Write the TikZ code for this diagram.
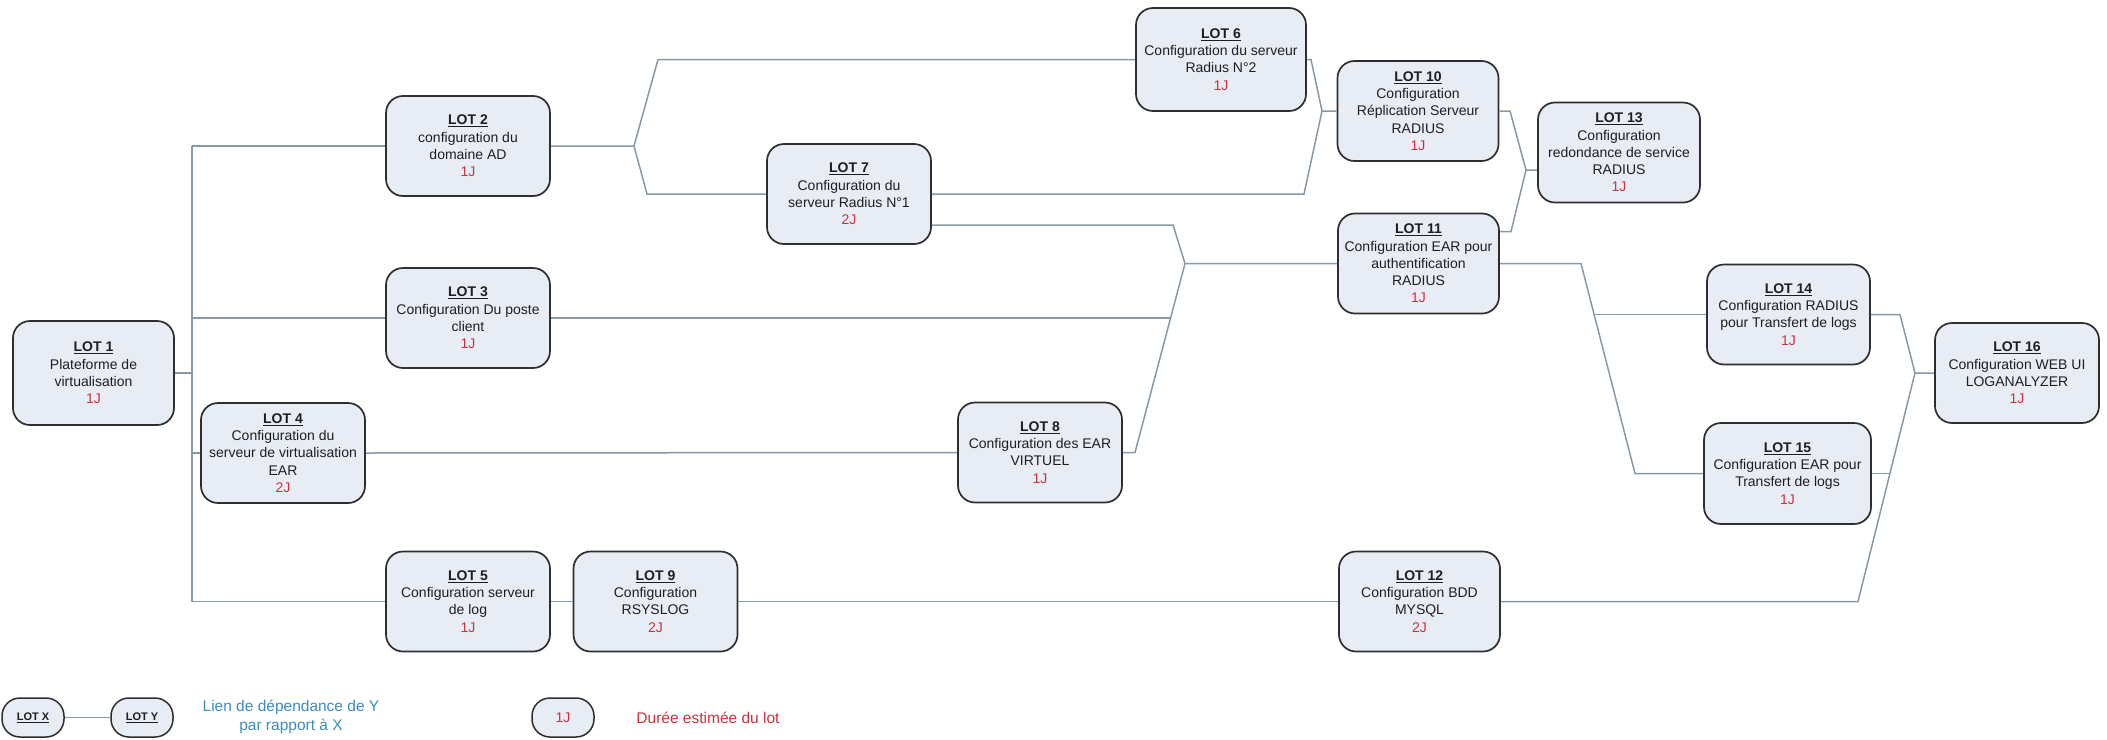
\documentclass[tikz,border=0pt]{standalone}
\usepackage{fontspec}
\setmainfont{Liberation Sans}
\usetikzlibrary{calc}

\definecolor{lotfill}{HTML}{E8EDF5}
\definecolor{lotdraw}{HTML}{2E2E2E}
\definecolor{linkcol}{HTML}{8798A6}
\definecolor{durcol}{HTML}{D0303C}
\definecolor{legblue}{HTML}{3A8CC0}
\definecolor{bodytext}{HTML}{1E1E1E}

\tikzset{
  lot/.style={draw=lotdraw, line width=1.7pt, fill=lotfill, rounded corners=17pt,
    minimum width=164pt, minimum height=100pt, inner sep=2pt, align=center,
    text=bodytext, font=\fontsize{14}{17.3}\selectfont},
  legbox/.style={draw=lotdraw, line width=1.5pt, fill=lotfill, rounded corners=18pt,
    minimum width=62pt, minimum height=39pt, inner sep=1pt, align=center,
    text=bodytext},
  link/.style={draw=linkcol, line width=1.5pt},
  legtext/.style={align=center, font=\fontsize{15.5}{18.5}\selectfont},
}

% box contents: title, description lines, estimated duration
\newcommand{\lotbox}[3]{\underline{\textbf{LOT #1}}\\#2\\\textcolor{durcol}{#3}}

\begin{document}
\begin{tikzpicture}[x=1pt,y=-1pt]
\useasboundingbox (0,0) rectangle (2107,739);

% work packages
\node[lot, minimum width=161pt, minimum height=104pt] (n1) at (93.5,373) {\lotbox{1}{Plateforme de\\virtualisation}{1J}};
\node[lot] (n2) at (468,146) {\lotbox{2}{configuration du\\domaine AD}{1J}};
\node[lot] (n3) at (468,318) {\lotbox{3}{Configuration Du poste\\client}{1J}};
\node[lot] (n4) at (283,453) {\lotbox{4}{Configuration du\\serveur de virtualisation\\EAR}{2J}};
\node[lot] (n5) at (468,601.5) {\lotbox{5}{Configuration serveur\\de log}{1J}};
\node[lot, minimum width=170pt, minimum height=103pt] (n6) at (1221,59.5) {\lotbox{6}{Configuration du serveur\\Radius N°2}{1J}};
\node[lot] (n7) at (849,194) {\lotbox{7}{Configuration du\\serveur Radius N°1}{2J}};
\node[lot] (n8) at (1040,452.5) {\lotbox{8}{Configuration des EAR\\VIRTUEL}{1J}};
\node[lot] (n9) at (655.5,601.5) {\lotbox{9}{Configuration\\RSYSLOG}{2J}};
\node[lot, minimum width=161pt] (n10) at (1418,111) {\lotbox{10}{Configuration\\Réplication Serveur\\RADIUS}{1J}};
\node[lot, minimum width=161pt] (n11) at (1418.5,263.5) {\lotbox{11}{Configuration EAR pour\\authentification\\RADIUS}{1J}};
\node[lot, minimum width=161pt] (n12) at (1419.5,601.5) {\lotbox{12}{Configuration BDD\\MYSQL}{2J}};
\node[lot, minimum width=162pt] (n13) at (1619,152.5) {\lotbox{13}{Configuration\\redondance de service\\RADIUS}{1J}};
\node[lot, minimum width=163pt] (n14) at (1788.5,314.5) {\lotbox{14}{Configuration RADIUS\\pour Transfert de logs}{1J}};
\node[lot, minimum width=167pt, minimum height=101pt] (n15) at (1787.5,473.5) {\lotbox{15}{Configuration EAR pour\\Transfert de logs}{1J}};
\node[lot] (n16) at (2017,373) {\lotbox{16}{Configuration WEB UI\\LOGANALYZER}{1J}};

% trunk leaving LOT 1
\coordinate (tr) at (192,0);
\draw[link] (n1.east) -- (tr |- n1.east);
\draw[link] (tr |- n2.west) -- (tr |- n5.west);
\draw[link] (tr |- n2.west) -- (n2.west);
\draw[link] (tr |- n3.west) -- (n3.west);
\draw[link] (tr |- n4.west) -- (n4.west);
\draw[link] (tr |- n5.west) -- (n5.west);

% LOT 2 towards LOT 6 and LOT 7
\coordinate (f2) at (634,146);
\coordinate (f2a) at (658,59.5);
\coordinate (f2b) at (647,194);
\draw[link] (n2.east) -- (f2) -- (f2a) -- (n6.west);
\draw[link] (f2) -- (f2b) -- (n7.west);

% LOT 6 and LOT 7 towards LOT 10
\coordinate (m10) at (1322,111);
\coordinate (a6) at (1311,59.5);
\coordinate (a7) at (1304,194);
\draw[link] (n6.east) -- (a6) -- (m10) -- (n10.west);
\draw[link] (n7.east) -- (a7) -- (m10);

% LOT 7, LOT 3 and LOT 8 towards LOT 11
\coordinate (m11) at (1185,263.5);
\coordinate (a7b) at (1173,225);
\coordinate (a8) at (1135,452.5);
\coordinate (j3) at (1170.6,318);
\draw[link] ([yshift=-31pt]n7.east) -- (a7b) -- (m11) -- (n11.west);
\draw[link] (n8.east) -- (a8) -- (m11);
\draw[link] (n3.east) -- (j3);

% straight links
\draw[link] (n4.east) -- (n8.west);
\draw[link] (n5.east) -- (n9.west);
\draw[link] (n9.east) -- (n12.west);

% LOT 10 and LOT 11 towards LOT 13
\coordinate (m13) at (1526,170);
\coordinate (a10) at (1510,111);
\coordinate (a11) at (1511,231.5);
\draw[link] (n10.east) -- (a10) -- (m13) -- (m13 -| n13.west);
\draw[link] ([yshift=32pt]n11.east) -- (a11) -- (m13);

% LOT 11 towards LOT 14 and LOT 15
\coordinate (a11b) at (1581,263.5);
\coordinate (a15) at (1635,473.5);
\coordinate (j14) at (1594.1,314.5);
\draw[link] (n11.east) -- (a11b) -- (a15) -- (n15.west);
\draw[link] (j14) -- (n14.west);

% LOT 14, LOT 15 and LOT 12 towards LOT 16
\coordinate (m16) at (1915,373);
\coordinate (a14) at (1900,314.5);
\coordinate (a12) at (1858,601.5);
\coordinate (j15) at (1889.9,473.5);
\draw[link] (n14.east) -- (a14) -- (m16) -- (n16.west);
\draw[link] (n12.east) -- (a12) -- (m16);
\draw[link] (n15.east) -- (j15);

% legend
\node[legbox, font=\fontsize{11}{13}\selectfont] (lx) at (33,717.5) {\underline{\textbf{LOT X}}};
\node[legbox, font=\fontsize{11}{13}\selectfont] (ly) at (142,717.5) {\underline{\textbf{LOT Y}}};
\draw[link] (lx) -- (ly);
\node[legtext, text=legblue] (ltxt) at (291,717) {Lien de dépendance de Y\\par rapport à X};
\node[legbox, font=\fontsize{14}{17}\selectfont] (ld) at (563,717.5) {\textcolor{durcol}{1J}};
\node[legtext, text=durcol] (ldtxt) at (708,718) {Durée estimée du lot};
\end{tikzpicture}
\end{document}
